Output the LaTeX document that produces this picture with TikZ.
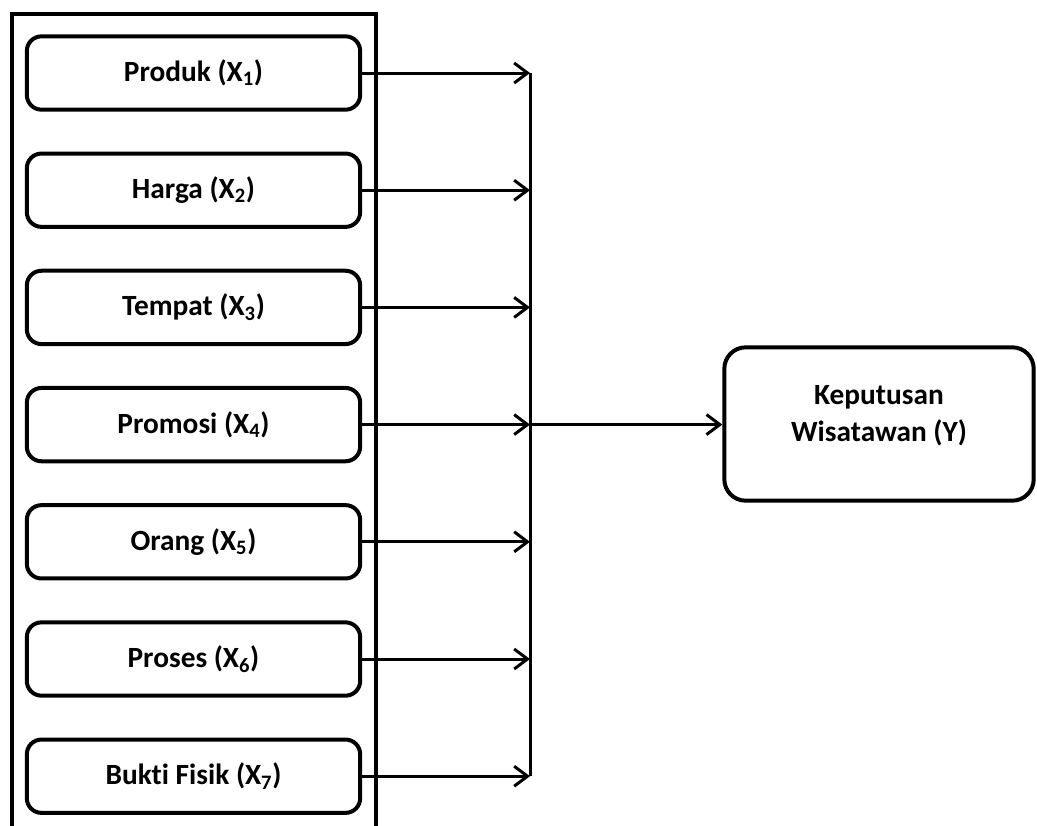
\documentclass[tikz,border=0pt]{standalone}
\usepackage{fontspec}
\setmainfont{Carlito}[Ligatures=NoCommon]
\usetikzlibrary{positioning,arrows.meta}

\begin{document}
\begin{tikzpicture}[x=0.75pt, y=-0.75pt, node distance=29.9pt,
  font=\bfseries\fontsize{22}{27.5}\selectfont,
  var/.style={draw, line width=3pt, rounded corners=11pt,
              minimum width=250pt, minimum height=55pt, align=center, inner sep=0pt},
  dep/.style={draw, line width=3pt, rounded corners=16pt,
              minimum width=232pt, minimum height=115pt, align=center},
  arr/.style={-{Straight Barb[length=10pt, width=15pt, line width=2.25pt]}, line width=2.25pt},
  bus/.style={line width=2.25pt}
]
\useasboundingbox (0,0) rectangle (1037,825);
% outer frame (open at the bottom)
\draw[line width=3pt] (12,840) |- (376,14) -- (376,840);
% independent variables
\node[var] (x1) at (193.5,73) {Produk (X\textsubscript{1})};
\node[var, below=of x1] (x2) {Harga (X\textsubscript{2})};
\node[var, below=of x2] (x3) {Tempat (X\textsubscript{3})};
\node[var, below=of x3] (x4) {Promosi (X\textsubscript{4})};
\node[var, below=of x4] (x5) {Orang (X\textsubscript{5})};
\node[var, below=of x5] (x6) {Proses (X\textsubscript{6})};
\node[var, below=of x6] (x7) {Bukti Fisik (X\textsubscript{7})};
% dependent variable
\coordinate (busx) at (530,0);
\node[dep] (y) at (879,424) {Keputusan\\Wisatawan (Y)\\[-12pt]};
\foreach \i in {1,...,7}
  \draw[arr] (x\i.east) -- (x\i.east -| busx);
\draw[bus] (x1.east -| busx) -- (x7.east -| busx);
\draw[arr] (x4.east -| busx) -- (x4.east -| y.west);
\end{tikzpicture}
\end{document}
